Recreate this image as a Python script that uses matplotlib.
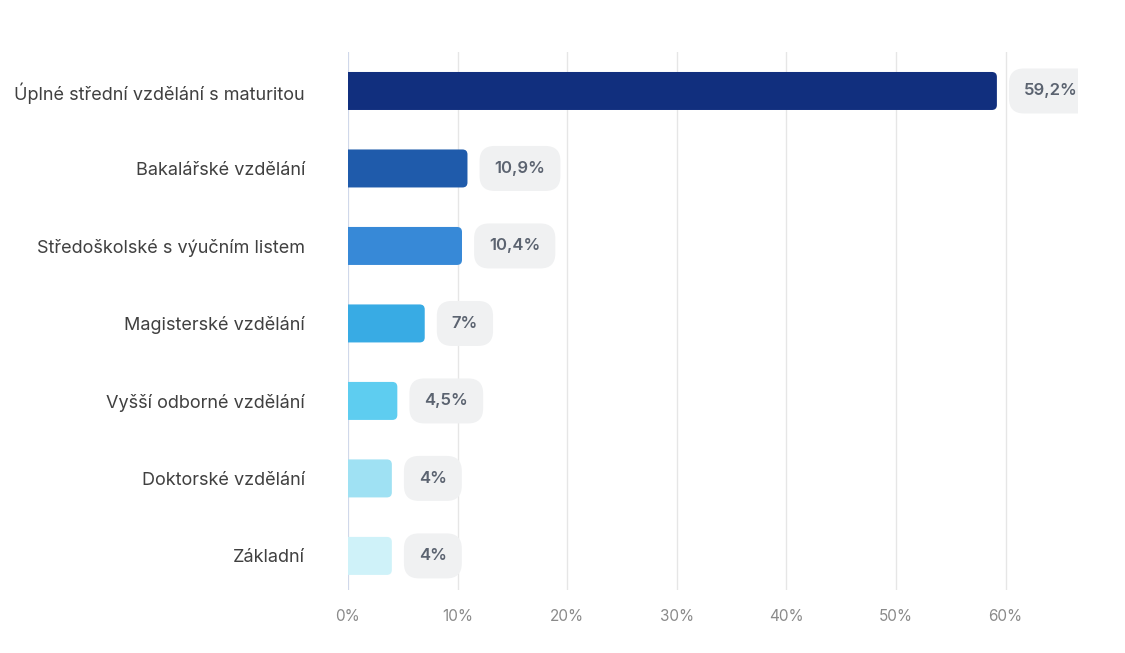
import matplotlib.pyplot as plt
from matplotlib.patches import FancyBboxPatch
from matplotlib.ticker import FuncFormatter

# Data
categories = ["Úplné střední vzdělání s maturitou", "Bakalářské vzdělání",
              "Středoškolské s výučním listem", "Magisterské vzdělání",
              "Vyšší odborné vzdělání", "Doktorské vzdělání", "Základní"]
values = [59.2, 10.9, 10.4, 7.0, 4.5, 4.0, 4.0]
labels = ["59,2%", "10,9%", "10,4%", "7%", "4,5%", "4%", "4%"]
colors = ["#112f7e", "#1f5bab", "#3789d7", "#38abe4", "#5ecdf0", "#9fe1f3", "#cff2f9"]

plt.rcParams['font.family'] = ['Inter', 'DejaVu Sans']

fig = plt.figure(figsize=(11.25, 6.53), dpi=100)
ax = fig.add_axes([348 / 1125, 1 - 590 / 653, (1078 - 348) / 1125, (590 - 52) / 653])

xmax = 66.6
ax.set_xlim(0, xmax)
ax.set_ylim(6.44, -0.503)

# pixel -> data conversion for rounded corners
px_x = xmax / (1078 - 348)
px_y = (6.44 + 0.503) / (590 - 52)
bar_h = 38 * px_y
radius = 5 * px_x

# bars start left of 0 so the left corners are clipped away (square)
for i, (v, c) in enumerate(zip(values, colors)):
    ax.add_patch(FancyBboxPatch((-3 * radius, i - bar_h / 2), v + 3 * radius, bar_h,
                                boxstyle=f"round,pad=0,rounding_size={radius}",
                                mutation_aspect=px_y / px_x, fc=c, ec="none", zorder=3))

for i, (v, lab) in enumerate(zip(values, labels)):
    ax.annotate(lab, (v, i), xytext=(19.5, 0), textcoords="offset points",
                ha="left", va="center", fontsize=12, fontweight="semibold", color="#5b6370",
                bbox=dict(boxstyle="round,pad=0.9,rounding_size=0.9", fc="#f0f1f2", ec="none"),
                clip_on=True, zorder=4)

ax.set_yticks(range(len(categories)))
ax.set_yticklabels(categories, fontsize=13, color="#404040")
ax.set_xticks(range(0, 61, 10))
ax.xaxis.set_major_formatter(FuncFormatter(lambda x, p: f"{int(x)}%"))
ax.tick_params(axis="x", length=0, pad=14, labelsize=11, labelcolor="#8a8a8a")
ax.tick_params(axis="y", length=0, pad=31)

ax.grid(axis="x", color="#e6e6e6", linewidth=1, zorder=0)
ax.axvline(0, color="#ccd6eb", linewidth=1.2, zorder=2)
for s in ax.spines.values():
    s.set_visible(False)

fig.savefig("out.png", dpi=100)
